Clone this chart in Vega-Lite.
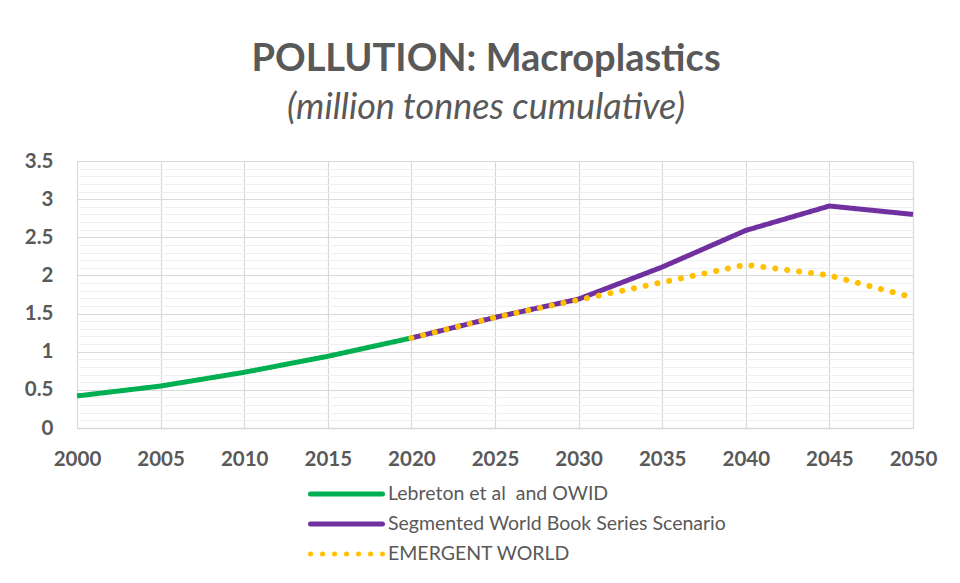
{
  "$schema": "https://vega.github.io/schema/vega-lite/v6.json",
  "width": 836,
  "height": 267,
  "autosize": {"type": "none"},
  "padding": {"left": 77, "top": 161, "right": 47, "bottom": 155},
  "background": "white",
  "config": {"font": "Lato", "view": {"stroke": null}},
  "title": {
    "text": "POLLUTION: Macroplastics",
    "subtitle": "(million tonnes cumulative)",
    "anchor": "middle",
    "dx": -9,
    "offset": 25,
    "fontSize": 38,
    "fontWeight": "bold",
    "color": "#595959",
    "font": "Lato",
    "subtitleFont": "Lato",
    "subtitleFontSize": 36,
    "subtitleFontStyle": "italic",
    "subtitleColor": "#595959",
    "subtitlePadding": 12
  },
  "data": {
    "values": [
      {"series": "Lebreton et al\u00a0 and OWID", "year": 2000, "value": 0.42},
      {"series": "Lebreton et al\u00a0 and OWID", "year": 2005, "value": 0.55},
      {"series": "Lebreton et al\u00a0 and OWID", "year": 2010, "value": 0.73},
      {"series": "Lebreton et al\u00a0 and OWID", "year": 2015, "value": 0.94},
      {"series": "Lebreton et al\u00a0 and OWID", "year": 2020, "value": 1.18},
      {"series": "Segmented World Book Series Scenario", "year": 2020, "value": 1.18},
      {"series": "Segmented World Book Series Scenario", "year": 2025, "value": 1.45},
      {"series": "Segmented World Book Series Scenario", "year": 2030, "value": 1.69},
      {"series": "Segmented World Book Series Scenario", "year": 2035, "value": 2.11},
      {"series": "Segmented World Book Series Scenario", "year": 2040, "value": 2.59},
      {"series": "Segmented World Book Series Scenario", "year": 2045, "value": 2.91},
      {"series": "Segmented World Book Series Scenario", "year": 2050, "value": 2.80},
      {"series": "EMERGENT WORLD", "year": 2020, "value": 1.18},
      {"series": "EMERGENT WORLD", "year": 2025, "value": 1.45},
      {"series": "EMERGENT WORLD", "year": 2030, "value": 1.68},
      {"series": "EMERGENT WORLD", "year": 2035, "value": 1.91},
      {"series": "EMERGENT WORLD", "year": 2040, "value": 2.14},
      {"series": "EMERGENT WORLD", "year": 2045, "value": 2.00},
      {"series": "EMERGENT WORLD", "year": 2050, "value": 1.71}
    ]
  },
  "encoding": {
    "x": {
      "field": "year",
      "type": "quantitative",
      "title": null,
      "scale": {"domain": [2000, 2050], "nice": false, "zero": false},
      "axis": {
        "values": [2000, 2005, 2010, 2015, 2020, 2025, 2030, 2035, 2040, 2045, 2050],
        "format": "d",
        "ticks": false,
        "labelPadding": 21,
        "labelFont": "Lato",
        "labelFontSize": 20.5,
        "labelFontWeight": "bold",
        "labelColor": "#595959",
        "gridColor": "#d9d9d9",
        "gridWidth": 1.2,
        "domainColor": "#d9d9d9",
        "domainWidth": 1.5,
        "labelFlush": false
      }
    },
    "y": {
      "field": "value",
      "type": "quantitative",
      "title": null,
      "scale": {"domain": [0, 3.5], "nice": false},
      "axis": {
        "values": [0, 0.1, 0.2, 0.3, 0.4, 0.5, 0.6, 0.7, 0.8, 0.9, 1, 1.1, 1.2, 1.3, 1.4, 1.5, 1.6, 1.7, 1.8, 1.9, 2, 2.1, 2.2, 2.3, 2.4, 2.5, 2.6, 2.7, 2.8, 2.9, 3, 3.1, 3.2, 3.3, 3.4, 3.5],
        "labelExpr": "abs(datum.value*2-round(datum.value*2))<0.001 ? format(datum.value, '~g') : ''",
        "ticks": false,
        "domain": false,
        "labelPadding": 24,
        "labelFont": "Lato",
        "labelFontSize": 20.5,
        "labelFontWeight": "bold",
        "labelColor": "#595959",
        "labelOverlap": false,
        "labelFlush": false,
        "gridColor": {
          "condition": {"test": "abs(datum.value*2-round(datum.value*2))<0.001", "value": "#d9d9d9"},
          "value": "#f0f0f0"
        },
        "gridWidth": 1.2
      }
    },
    "color": {
      "field": "series",
      "type": "nominal",
      "scale": {
        "domain": ["Lebreton et al\u00a0 and OWID", "Segmented World Book Series Scenario", "EMERGENT WORLD"],
        "range": ["#00b050", "#7030a0", "#ffc000"]
      },
      "legend": {
        "title": null,
        "orient": "none",
        "legendX": 231,
        "legendY": 322,
        "symbolType": "stroke",
        "symbolSize": 5184,
        "symbolStrokeWidth": 5,
        "clipHeight": 22,
        "rowPadding": 8,
        "labelOffset": 3,
        "labelFont": "Lato",
        "labelFontSize": 19.5,
        "labelColor": "#595959",
        "labelLimit": 500,
        "encode": {"symbols": {"update": {"strokeCap": {"value": "round"}}}}
      }
    },
    "strokeDash": {
      "field": "series",
      "type": "nominal",
      "scale": {
        "domain": ["Lebreton et al\u00a0 and OWID", "Segmented World Book Series Scenario", "EMERGENT WORLD"],
        "range": [[1, 0], [1, 0], [0.1, 11.9]]
      },
      "legend": {
        "title": null,
        "orient": "none",
        "legendX": 231,
        "legendY": 322,
        "symbolType": "stroke",
        "symbolSize": 5184,
        "symbolStrokeWidth": 5,
        "clipHeight": 22,
        "rowPadding": 8,
        "labelOffset": 3,
        "labelFont": "Lato",
        "labelFontSize": 19.5,
        "labelColor": "#595959",
        "labelLimit": 500,
        "encode": {"symbols": {"update": {"strokeCap": {"value": "round"}}}}
      }
    }
  },
  "layer": [
    {
      "transform": [{"filter": "datum.series === 'Lebreton et al\u00a0 and OWID'"}],
      "mark": {"type": "line", "strokeWidth": 5, "strokeCap": "butt"}
    },
    {
      "transform": [{"filter": "datum.series === 'Segmented World Book Series Scenario'"}],
      "mark": {"type": "line", "strokeWidth": 5, "strokeCap": "butt"}
    },
    {
      "transform": [{"filter": "datum.series === 'EMERGENT WORLD'"}],
      "mark": {"type": "line", "strokeWidth": 6, "strokeCap": "round"}
    }
  ]
}
